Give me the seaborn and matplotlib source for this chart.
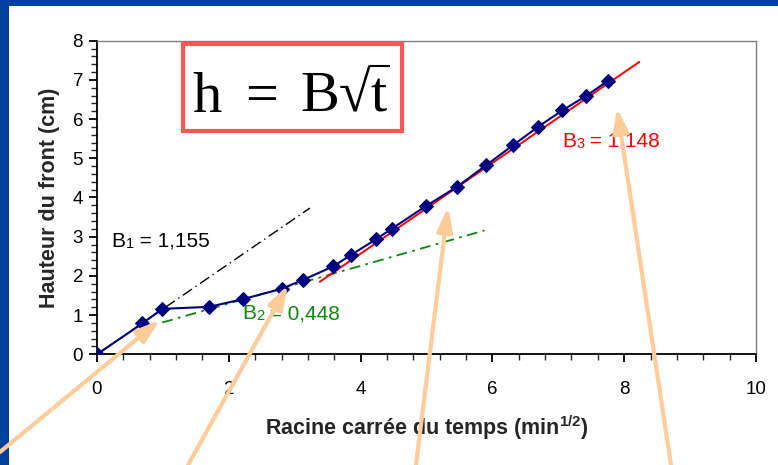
import matplotlib
matplotlib.use("Agg")
import matplotlib.pyplot as plt
import seaborn as sns
import pandas as pd
from matplotlib.ticker import MultipleLocator
from matplotlib.patches import Rectangle, FancyArrowPatch
from matplotlib.lines import Line2D
from matplotlib.font_manager import FontProperties, findfont
from matplotlib.textpath import TextPath
from matplotlib.ft2font import FT2Font

# Data
sqrt_t = [0.0, 0.69, 0.99, 1.70, 2.22, 2.80, 3.13, 3.58, 3.85, 4.23, 4.47, 4.99,
          5.47, 5.91, 6.31, 6.69, 7.06, 7.42, 7.75]
hauteur = [0.0, 0.79, 1.16, 1.21, 1.41, 1.67, 1.90, 2.24, 2.53, 2.93, 3.20, 3.78,
           4.28, 4.83, 5.33, 5.80, 6.22, 6.59, 6.97]

fit1_x = [0.0, 3.23]
fit1_y = [0.0, 3.73]
fit2_x = [0.99, 5.88]
fit2_y = [0.81, 3.16]
fit3_x = [3.38, 8.23]
fit3_y = [1.85, 7.46]

labels = ["B", "B", "B"]
subs = ["1", "2", "3"]
values = ["1,155", "0,448", "1,148"]
label_pos = [(0.22, 2.75), (2.2, 0.90), (7.06, 5.3)]
label_colors = ["black", "#0A8A0A", "#FF0000"]

formula_parts = ["h", "=", "B√t"]

df = pd.DataFrame({"x": sqrt_t, "y": hauteur})

sns.set_style("white")
plt.rcParams["font.family"] = ["Liberation Sans", "DejaVu Sans"]
plt.rcParams["mathtext.fontset"] = "custom"
plt.rcParams["mathtext.rm"] = "Liberation Sans"
plt.rcParams["mathtext.bf"] = "Liberation Sans:bold"

W, H = 778, 465
fig = plt.figure(figsize=(W / 100, H / 100), dpi=100)
fig.patch.set_facecolor("white")

# blue frame
border = "#0041A0"
fig.patches.append(Rectangle((0, 0), 9 / W, 1, transform=fig.transFigure,
                             facecolor=border, edgecolor="none", zorder=0))
fig.patches.append(Rectangle((0, 1 - 6 / H), 1, 6 / H, transform=fig.transFigure,
                             facecolor=border, edgecolor="none", zorder=0))

ax = fig.add_axes([97 / W, (H - 354.3) / H, (756 - 97) / W, (354.3 - 40.7) / H])

# fit lines
sns.lineplot(x=fit1_x, y=fit1_y, ax=ax, color="black", lw=1.0, linestyle=(0, (8, 3, 1, 3)))
sns.lineplot(x=fit2_x, y=fit2_y, ax=ax, color="#0A8A0A", lw=1.3, linestyle=(0, (6, 3, 1.5, 3)))
sns.lineplot(x=fit3_x, y=fit3_y, ax=ax, color="#FF0000", lw=1.4)

# data
sns.lineplot(data=df, x="x", y="y", ax=ax, color="#000080", lw=1.5, marker="D",
             markersize=7.5, markeredgecolor="#000080", markerfacecolor="#000080", zorder=5)

ax.set_xlim(0, 10)
ax.set_ylim(0, 8)
ax.xaxis.set_major_locator(MultipleLocator(2))
ax.xaxis.set_minor_locator(MultipleLocator(0.4))
ax.yaxis.set_major_locator(MultipleLocator(1))
ax.yaxis.set_minor_locator(MultipleLocator(0.2))
ax.tick_params(axis="both", which="major", direction="out", length=6, width=1.3,
               labelsize=13.5, colors="black", bottom=True, left=True, pad=4)
ax.tick_params(axis="both", which="minor", direction="out", length=4, width=1.0,
               bottom=True, left=True)
ax.tick_params(axis="x", which="major", pad=13)
for s in ["left", "bottom"]:
    ax.spines[s].set_color("black")
    ax.spines[s].set_linewidth(1.3)
for s in ["top", "right"]:
    ax.spines[s].set_color("#808080")
    ax.spines[s].set_linewidth(1.0)

ax.set_xlabel(r"Racine carrée du temps (min$^{\mathbf{1/2}}$)", fontsize=15.5,
              fontweight="bold", labelpad=11)
ax.set_ylabel("Hauteur du front (cm)", fontsize=15.5, fontweight="bold", labelpad=9)

# B labels : "B" + small index at baseline + " = value"
for (x, y), lab, sub, val, col in zip(label_pos, labels, subs, values, label_colors):
    t0 = ax.text(x, y, lab, color=col, fontsize=15, va="baseline", ha="left")
    t1 = ax.annotate(sub, xy=(1, 0), xycoords=t0, color=col, fontsize=10.5,
                     va="bottom", ha="left")
    ax.annotate(" = " + val, xy=(1, 0), xycoords=t1, color=col, fontsize=15,
                va="bottom", ha="left")

# formula box (pixel coordinates measured from the top-left)
box_x0, box_y0, box_x1, box_y1 = 183, 44, 402, 131
fig.patches.append(Rectangle((box_x0 / W, 1 - box_y1 / H), (box_x1 - box_x0) / W,
                             (box_y1 - box_y0) / H, transform=fig.transFigure,
                             facecolor="white", edgecolor="#FF5555", lw=3, zorder=10))

serif = "Liberation Serif"
try:
    cmap = FT2Font(findfont(FontProperties(family=serif))).get_charmap()
    if 0x221A not in cmap:
        serif = "DejaVu Serif"
except Exception:
    serif = "DejaVu Serif"
fp = FontProperties(family=serif, size=42)
k = 100 / 72.0
base_y = 111.5
glyph_left = [193, 248, 302]
for part, gx in zip(formula_parts, glyph_left):
    try:
        x0 = TextPath((0, 0), part, prop=fp).get_extents().x0 * k
    except Exception:
        x0 = 0
    fig.text((gx - x0) / W, 1 - base_y / H, part, fontproperties=fp, ha="left",
             va="baseline", color="black", zorder=11)

# overbar of the radical
try:
    last = formula_parts[-1]
    ext_last = TextPath((0, 0), last, prop=fp).get_extents()
    rad_ext = TextPath((0, 0), last[:-1], prop=fp).get_extents()
    tx = glyph_left[-1] - ext_last.x0 * k
    xa = tx + rad_ext.x1 * k - 1.5
    xb = tx + ext_last.x1 * k + 3
    yb = base_y - rad_ext.y1 * k + 1
    fig.add_artist(Line2D([xa / W, xb / W], [1 - yb / H, 1 - yb / H],
                          transform=fig.transFigure, color="black", lw=1.5,
                          solid_capstyle="butt", zorder=12))
except Exception:
    pass

# arrows (figure pixels)
arrows = [((0, H - 452), (160, H - 320)),
          ((188, 0), (288, H - 285)),
          ((416, 0), (448, H - 207)),
          ((671, 0), (617, H - 108))]
for start, end in arrows:
    fig.add_artist(FancyArrowPatch(
        start, end, transform=None, arrowstyle="-|>,head_length=8,head_width=2.6",
        color="#FFCC99", lw=3, mutation_scale=1.8, shrinkA=0, shrinkB=0, zorder=20,
        clip_on=False))

fig.savefig("out.png", dpi=100)
